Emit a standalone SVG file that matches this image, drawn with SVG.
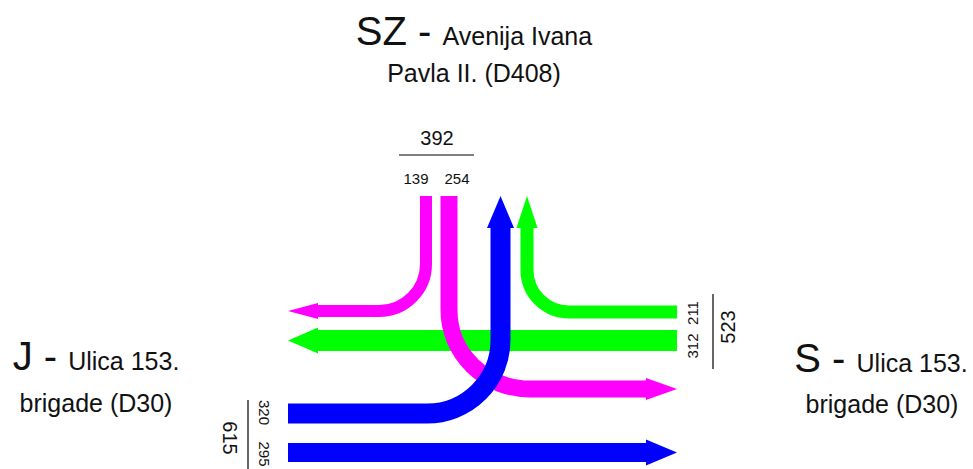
<svg xmlns="http://www.w3.org/2000/svg" width="973" height="469" viewBox="0 0 973 469">
<style>
  text { font-family: "Liberation Sans", Arial, sans-serif; fill: #111; }
  .big { font-size: 40px; }
  .sub { font-size: 25px; }
  .tot { font-size: 20px; }
  .lane { font-size: 15px; }
  .sep { stroke: #000; stroke-width: 1.2; fill: none; }
  .flow { fill: none; stroke-linejoin: round; }
  .g { stroke: #00FF00; }
  .m { stroke: #FF00FF; }
  .b { stroke: #0000FF; }
  .hg { fill: #00FF00; }
  .hm { fill: #FF00FF; }
  .hb { fill: #0000FF; }
</style>
<rect width="973" height="469" fill="#fff"/>

<g id="approach-SZ">
  <text x="474" y="45" text-anchor="middle"><tspan class="big">SZ - </tspan><tspan class="sub">Avenija Ivana</tspan></text>
  <text class="sub" x="474" y="82" text-anchor="middle">Pavla II. (D408)</text>
</g>
<g id="approach-J">
  <text x="96" y="370" text-anchor="middle"><tspan class="big">J - </tspan><tspan class="sub">Ulica 153.</tspan></text>
  <text class="sub" x="96" y="412" text-anchor="middle">brigade (D30)</text>
</g>
<g id="approach-S">
  <text x="881" y="372" text-anchor="middle"><tspan class="big">S - </tspan><tspan class="sub">Ulica 153.</tspan></text>
  <text class="sub" x="882" y="413" text-anchor="middle">brigade (D30)</text>
</g>

<g id="counts-SZ">
  <text class="tot" x="437" y="145" text-anchor="middle">392</text>
  <line class="sep" x1="399" y1="155" x2="474" y2="155"/>
  <text class="lane" x="416" y="184" text-anchor="middle">139</text>
  <text class="lane" x="457" y="184" text-anchor="middle">254</text>
</g>
<g id="counts-S">
  <text class="lane" transform="translate(697.5,313) rotate(-90)" text-anchor="middle">211</text>
  <text class="lane" transform="translate(697.5,346) rotate(-90)" text-anchor="middle">312</text>
  <line class="sep" x1="713" y1="294" x2="713" y2="369"/>
  <text class="tot" transform="translate(735,327) rotate(-90)" text-anchor="middle">523</text>
</g>
<g id="counts-J">
  <text class="lane" transform="translate(259,412.5) rotate(90)" text-anchor="middle">320</text>
  <text class="lane" transform="translate(259,454) rotate(90)" text-anchor="middle">295</text>
  <line class="sep" x1="248" y1="400" x2="248" y2="469"/>
  <text class="tot" transform="translate(223,438) rotate(90)" text-anchor="middle">615</text>
</g>

<g id="connectors">
  <!-- S -> SZ (green right turn) -->
  <path class="flow g" stroke-width="13" d="M677,312 H569 A42,42 0 0 1 527,270 V225"/>
  <polygon class="hg" points="527,196 516.5,228 537.5,228"/>
  <!-- S -> J (green through) -->
  <path class="flow g" stroke-width="21" d="M677,340.5 H316"/>
  <polygon class="hg" points="288,340.5 318,327.5 318,353.5"/>
  <!-- SZ -> J (magenta left turn) -->
  <path class="flow m" stroke-width="12" d="M426,196 V264 A47,47 0 0 1 379,311 H316"/>
  <polygon class="hm" points="288,311 318,303 318,319"/>
  <!-- SZ -> S (magenta through/turn) -->
  <path class="flow m" stroke-width="17" d="M449,196 V310 A81,79 0 0 0 530,389 H648"/>
  <polygon class="hm" points="677,389 646,378 646,400"/>
  <!-- J -> SZ (blue turn) -->
  <path class="flow b" stroke-width="20" d="M288,413.5 H427 A73.5,73.5 0 0 0 500.5,340 V225"/>
  <polygon class="hb" points="500.5,196 487,228 514,228"/>
  <!-- J -> S (blue through) -->
  <path class="flow b" stroke-width="19" d="M288,452.5 H649"/>
  <polygon class="hb" points="677,452.5 646,439.5 646,465.5"/>
</g>
</svg>
